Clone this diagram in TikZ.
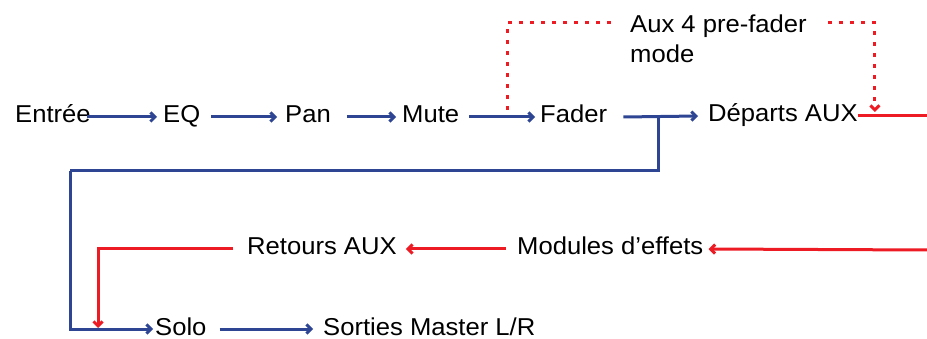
\documentclass[tikz,border=0pt]{standalone}
\usepackage{fontspec}
\setmainfont[FakeStretch=1.05]{Liberation Sans}
\usetikzlibrary{arrows.meta}
\definecolor{flowblue}{HTML}{2E4594}
\definecolor{flowred}{HTML}{ED1C24}
\tikzset{
  lbl/.style={inner sep=0pt, anchor=base west, text height=14pt, text depth=2pt, font=\fontsize{24.4}{28}\selectfont},
  tip/.style={-{Straight Barb[length=4.5pt,width=9pt]}},
  bluearrow/.style={draw=flowblue, line width=3pt, tip},
  blueline/.style={draw=flowblue, line width=3pt},
  redarrow/.style={draw=flowred, line width=3pt, tip},
  redline/.style={draw=flowred, line width=3pt},
  reddots/.style={draw=flowred, line width=3pt, dash pattern=on 4pt off 7pt},
}
\begin{document}
\begin{tikzpicture}[x=1pt,y=-1pt]
\useasboundingbox (0,0) rectangle (927,339);
% nodes
\node[lbl] (entree)  at (15,123)  {Entrée};
\node[lbl] (eq)      at (163,123) {EQ};
\node[lbl] (pan)     at (285,123) {Pan};
\node[lbl] (mute)    at (402,123) {Mute};
\node[lbl] (fader)   at (540,123) {Fader};
\node[lbl] (departs) at (708,122) {Départs AUX};
\node[lbl] (aux1)    at (630,33)  {Aux 4 pre-fader};
\node[lbl] (aux2)    at (630,63)  {mode};
\node[lbl] (retours) at (247,255) {Retours AUX};
\node[lbl] (modules) at (517,255) {Modules d’effets};
\node[lbl] (solo)    at (155,335) {Solo};
\node[lbl] (sorties) at (323,335) {Sorties Master L/R};
% helper coordinates
\coordinate (tap)   at (507,110);
\coordinate (drop)  at (658,117);
\coordinate (loopc) at (70,171);
\coordinate (redR)  at (927,117);
\coordinate (fxin)  at (927,250);
\coordinate (rdrop) at (98,328);
% main chain
\draw[bluearrow] ([xshift=-4pt]entree.east) -- ([xshift=-6pt]eq.west);
\draw[bluearrow] ([xshift=11pt]eq.east) -- ([xshift=-8pt]pan.west);
\draw[bluearrow] ([xshift=16pt]pan.east) -- ([xshift=-6pt]mute.west);
\draw[bluearrow] ([xshift=10pt]mute.east) -- ([xshift=-5pt]fader.west);
\draw[bluearrow] ([xshift=16pt]fader.east) -- ([xshift=-10pt]departs.west);
% pre-fader dotted path
\draw[reddots] (tap) |- ([xshift=-17pt,yshift=4pt]aux1.west);
\draw[reddots, tip] ([xshift=21pt,yshift=4pt]aux1.east) -| ([xshift=17pt,yshift=4pt]departs.east);
% aux send out
\draw[redline] (departs.east) -- (departs.east -| redR);
% loop to solo
\draw[blueline] (drop) |- (loopc);
\draw[bluearrow] (loopc) |- ([xshift=-2pt]solo.west);
\draw[bluearrow] ([xshift=13pt]solo.east) -- ([xshift=-10pt]sorties.west);
% effects return
\draw[redarrow] (fxin) -- ([xshift=5pt]modules.east);
\draw[redarrow] ([xshift=-11pt]modules.west) -- ([xshift=9pt]retours.east);
\draw[redarrow] ([xshift=-14pt]retours.west) -| (rdrop);
\end{tikzpicture}
\end{document}
